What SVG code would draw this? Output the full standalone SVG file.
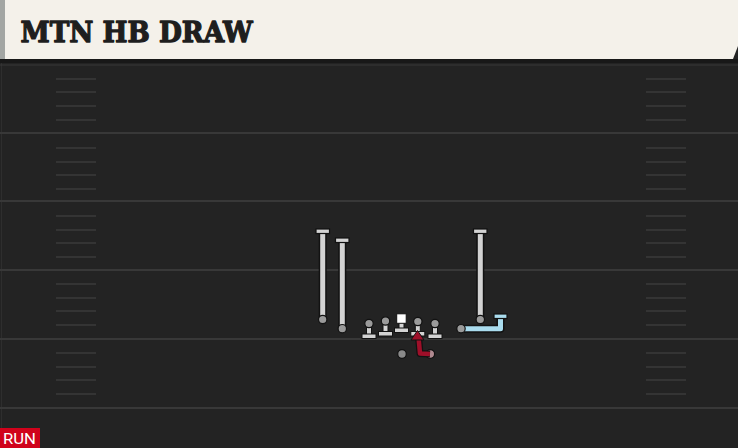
<svg xmlns="http://www.w3.org/2000/svg" width="738" height="448" viewBox="0 0 738 448">
<defs>
<style>
.yard{stroke:#383838;stroke-width:2}
.hash{stroke:#343434;stroke-width:2}
.rout{fill:none;stroke:#121212;stroke-width:8;stroke-linejoin:round}
.rin{fill:none;stroke:#d3d3d3;stroke-width:5;stroke-linejoin:round}
.blue{fill:none;stroke:#aadcee;stroke-width:5;stroke-linejoin:round}
.red{fill:none;stroke:#9e0f29;stroke-width:4.5;stroke-linejoin:round}
.cap{fill:#d3d3d3;stroke:#121212;stroke-width:1.2}
.dot{fill:#9a9a9a;stroke:#121212;stroke-width:1.2}
.body{fill:#d3d3d3;stroke:#121212;stroke-width:1}
</style>
</defs>
<rect x="0" y="0" width="738" height="448" fill="#232323"/>
<rect x="0" y="59" width="738" height="4" fill="#181818"/>
<line x1="1.5" y1="63" x2="1.5" y2="448" stroke="#2e2e2e" stroke-width="1"/>
<g id="field">
<line class="yard" x1="0" y1="65" x2="738" y2="65" stroke-opacity="0.5"/>
<line class="yard" x1="0" y1="133" x2="738" y2="133"/>
<line class="yard" x1="0" y1="201" x2="738" y2="201"/>
<line class="yard" x1="0" y1="270" x2="738" y2="270"/>
<line class="yard" x1="0" y1="339" x2="738" y2="339"/>
<line class="yard" x1="0" y1="408" x2="738" y2="408"/>
<g id="hashes-left">
<line class="hash" x1="56" y1="79" x2="96" y2="79"/><line class="hash" x1="56" y1="92" x2="96" y2="92"/><line class="hash" x1="56" y1="106" x2="96" y2="106"/><line class="hash" x1="56" y1="120" x2="96" y2="120"/>
<line class="hash" x1="56" y1="148" x2="96" y2="148"/><line class="hash" x1="56" y1="162" x2="96" y2="162"/><line class="hash" x1="56" y1="175" x2="96" y2="175"/><line class="hash" x1="56" y1="189" x2="96" y2="189"/>
<line class="hash" x1="56" y1="216" x2="96" y2="216"/><line class="hash" x1="56" y1="230" x2="96" y2="230"/><line class="hash" x1="56" y1="243" x2="96" y2="243"/><line class="hash" x1="56" y1="257" x2="96" y2="257"/>
<line class="hash" x1="56" y1="284" x2="96" y2="284"/><line class="hash" x1="56" y1="298" x2="96" y2="298"/><line class="hash" x1="56" y1="311" x2="96" y2="311"/><line class="hash" x1="56" y1="325" x2="96" y2="325"/>
<line class="hash" x1="56" y1="353" x2="96" y2="353"/><line class="hash" x1="56" y1="367" x2="96" y2="367"/><line class="hash" x1="56" y1="380" x2="96" y2="380"/><line class="hash" x1="56" y1="394" x2="96" y2="394"/>
</g>
<g id="hashes-right">
<line class="hash" x1="646" y1="79" x2="686" y2="79"/><line class="hash" x1="646" y1="92" x2="686" y2="92"/><line class="hash" x1="646" y1="106" x2="686" y2="106"/><line class="hash" x1="646" y1="120" x2="686" y2="120"/>
<line class="hash" x1="646" y1="148" x2="686" y2="148"/><line class="hash" x1="646" y1="162" x2="686" y2="162"/><line class="hash" x1="646" y1="175" x2="686" y2="175"/><line class="hash" x1="646" y1="189" x2="686" y2="189"/>
<line class="hash" x1="646" y1="216" x2="686" y2="216"/><line class="hash" x1="646" y1="230" x2="686" y2="230"/><line class="hash" x1="646" y1="243" x2="686" y2="243"/><line class="hash" x1="646" y1="257" x2="686" y2="257"/>
<line class="hash" x1="646" y1="284" x2="686" y2="284"/><line class="hash" x1="646" y1="298" x2="686" y2="298"/><line class="hash" x1="646" y1="311" x2="686" y2="311"/><line class="hash" x1="646" y1="325" x2="686" y2="325"/>
<line class="hash" x1="646" y1="353" x2="686" y2="353"/><line class="hash" x1="646" y1="367" x2="686" y2="367"/><line class="hash" x1="646" y1="380" x2="686" y2="380"/><line class="hash" x1="646" y1="394" x2="686" y2="394"/>
</g>
</g>
<g id="header">
<polygon points="5,0 738,0 738,46 733,59 5,59" fill="#f4f1ea"/>
<rect x="0" y="0" width="5" height="59" fill="#a3a6a3"/>
<text x="20.5" y="42" font-family="'DejaVu Serif', 'Liberation Serif', serif" font-weight="bold" font-size="28" fill="#1e1e1e" textLength="232" lengthAdjust="spacingAndGlyphs" stroke="#1e1e1e" stroke-width="1.3" stroke-linejoin="round">MTN HB DRAW</text>
</g>
<g id="connectors">
<g id="route-wr1"><path class="rout" d="M322.7,233 V319"/><path class="rin" d="M322.7,233 V319"/><rect class="cap" x="316" y="229" width="13.5" height="4.5"/></g>
<g id="route-wr2"><path class="rout" d="M342.3,242 V328"/><path class="rin" d="M342.3,242 V328"/><rect class="cap" x="335.5" y="238" width="13.5" height="4.5"/></g>
<g id="route-te"><path class="rout" d="M480.3,233 V319"/><path class="rin" d="M480.3,233 V319"/><rect class="cap" x="473.5" y="229" width="13.5" height="4.5"/></g>
<g id="route-slot"><path class="rout" d="M461,328.7 H500.5 V318"/><path class="blue" d="M461,328.7 H500.5 V318"/><rect x="494" y="314" width="13" height="4.5" fill="#aadcee" stroke="#121212" stroke-width="1.2"/></g>
</g>
<g id="wr1"><circle class="dot" cx="322.7" cy="319.5" r="4.2"/></g>
<g id="wr2"><circle class="dot" cx="342.3" cy="328.7" r="4.2"/></g>
<g id="te"><circle class="dot" cx="480.3" cy="319.5" r="4.2"/></g>
<g id="slot"><circle class="dot" cx="461" cy="328.7" r="4.2"/></g>
<g id="lt"><rect class="body" x="366.5" y="325" width="5" height="10"/><rect class="body" x="362" y="334" width="14" height="4.5"/><circle class="dot" cx="369" cy="323.5" r="4.2"/></g>
<g id="lg"><rect class="body" x="383" y="322" width="5" height="10"/><rect class="body" x="378.5" y="331.5" width="14" height="4.5"/><circle class="dot" cx="385.5" cy="321" r="4.2"/></g>
<g id="c"><rect class="body" x="399" y="321" width="5" height="8"/><rect class="body" x="394.5" y="328" width="14" height="4.5"/><rect x="396.7" y="313.8" width="9.5" height="9.5" fill="#ffffff" stroke="#121212" stroke-width="1"/></g>
<g id="rg"><rect class="body" x="415.3" y="322" width="5" height="10"/><rect class="body" x="410.8" y="331.5" width="14" height="4.5"/><circle class="dot" cx="417.8" cy="321.5" r="4.2"/></g>
<g id="rt"><rect class="body" x="432.5" y="325" width="5" height="10"/><rect class="body" x="428" y="334" width="14" height="4.5"/><circle class="dot" cx="435" cy="323.5" r="4.2"/></g>
<g id="qb"><circle cx="402" cy="354" r="4.3" fill="#8a8a8a" stroke="#121212" stroke-width="1.2"/></g>
<g id="rb"><circle cx="430.3" cy="354" r="4.3" fill="#b08a90" stroke="#121212" stroke-width="1.2"/></g>
<g id="route-rb">
<path d="M430,354 L420,353.5 L418.5,337" fill="none" stroke="#121212" stroke-width="7" stroke-linejoin="round"/>
<path d="M430,354 L420,353.5 L418.5,337" class="red"/>
<polygon points="417.5,330.5 424,340 411,340" fill="#9e0f29" stroke="#121212" stroke-width="1"/>
</g>
<g id="run-label">
<rect x="0" y="428" width="40" height="20" fill="#d0021b"/>
<text x="3" y="444" font-family="Roboto, 'Liberation Sans', sans-serif" font-size="15" fill="#ffffff" textLength="33" lengthAdjust="spacingAndGlyphs">RUN</text>
</g>
</svg>
